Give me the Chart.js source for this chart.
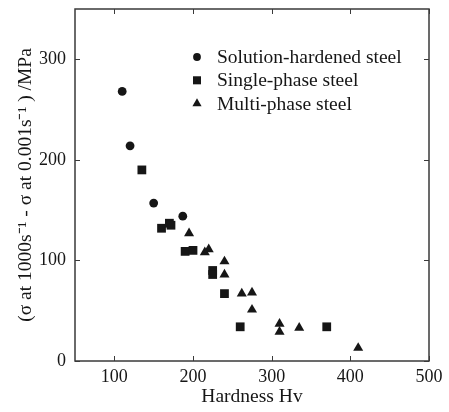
<!DOCTYPE html>
<html>
<head>
<meta charset="utf-8">
<script src="https://cdn.jsdelivr.net/npm/chart.js@4"></script>
<style>
  html, body { margin: 0; padding: 0; background: #fff; }
</style>
</head>
<body>
<canvas id="chart" width="449" height="412"></canvas>
<script>
const xTicks = [100, 200, 300, 400, 500];
const yTicks = [0, 100, 200, 300];
const seriesNames = ['Solution-hardened steel', 'Single-phase steel', 'Multi-phase steel'];

// hardness Hv / stress difference (MPa)
const solutionHv = [110, 120, 150, 187];
const solutionDiff = [268, 214, 157, 144];
const singleHv = [135, 160, 170, 172, 190, 200, 225, 225, 240, 260, 370];
const singleDiff = [190, 132, 137, 135, 109, 110, 90, 86, 67, 34, 34];
const multiHv = [195, 215, 220, 240, 240, 262, 275, 275, 310, 310, 335, 410];
const multiDiff = [127, 108, 111, 99, 86, 67, 68, 51, 37, 29, 33, 13];

const ink = '#161616';
const serif = "'Liberation Serif', 'Times New Roman', serif";

function toPoints(xs, ys) {
    return xs.map((x, i) => ({ x: x, y: ys[i] }));
}

// box frame with inward ticks on all four sides
const frameTicks = {
    id: 'frameTicks',
    afterDatasetsDraw(chart) {
        const ctx = chart.ctx;
        const a = chart.chartArea;
        const len = 5;
        ctx.save();
        ctx.strokeStyle = '#3a3a3a';
        ctx.lineWidth = 1.5;
        ctx.strokeRect(a.left, a.top, a.right - a.left, a.bottom - a.top);
        ctx.lineWidth = 1;
        ctx.beginPath();
        chart.scales.x.ticks.forEach(t => {
            const px = Math.round(chart.scales.x.getPixelForValue(t.value)) + 0.5;
            ctx.moveTo(px, a.bottom); ctx.lineTo(px, a.bottom - len);
            ctx.moveTo(px, a.top); ctx.lineTo(px, a.top + len);
        });
        chart.scales.y.ticks.forEach(t => {
            const py = Math.round(chart.scales.y.getPixelForValue(t.value)) + 0.5;
            ctx.moveTo(a.left, py); ctx.lineTo(a.left + len, py);
            ctx.moveTo(a.right, py); ctx.lineTo(a.right - len, py);
        });
        ctx.stroke();
        ctx.restore();
    }
};

// legend drawn inside the plot, upper right
const innerLegend = {
    id: 'innerLegend',
    afterDraw(chart) {
        const ctx = chart.ctx;
        const a = chart.chartArea;
        const markX = a.left + 122;
        const textX = a.left + 142;
        let rowY = a.top + 48;
        ctx.save();
        ctx.font = '19.5px ' + serif;
        ctx.textBaseline = 'middle';
        chart.data.datasets.forEach(ds => {
            ctx.fillStyle = ink;
            ctx.strokeStyle = ink;
            Chart.helpers.drawPoint(ctx, {
                pointStyle: ds.pointStyle,
                radius: ds.pointRadius - 0.5,
                rotation: 0,
                borderWidth: 0
            }, markX, rowY);
            ctx.fillStyle = ink;
            ctx.fillText(ds.label, textX, rowY + 1);
            rowY += 23.3;
        });
        ctx.restore();
    }
};

const ctxChart = document.getElementById('chart').getContext('2d');
new Chart(ctxChart, {
    type: 'scatter',
    data: {
        datasets: [
            {
                label: seriesNames[0],
                data: toPoints(solutionHv, solutionDiff),
                pointStyle: 'circle',
                pointRadius: 4.4,
                backgroundColor: ink,
                borderColor: ink,
                borderWidth: 0
            },
            {
                label: seriesNames[1],
                data: toPoints(singleHv, singleDiff),
                pointStyle: 'rect',
                pointRadius: 6.2,
                backgroundColor: ink,
                borderColor: ink,
                borderWidth: 0
            },
            {
                label: seriesNames[2],
                data: toPoints(multiHv, multiDiff),
                pointStyle: 'triangle',
                pointRadius: 5.8,
                backgroundColor: ink,
                borderColor: ink,
                borderWidth: 0
            }
        ]
    },
    options: {
        responsive: false,
        animation: false,
        devicePixelRatio: 1,
        layout: { padding: { left: 0, right: 20, top: 9, bottom: 0 } },
        plugins: {
            legend: { display: false },
            tooltip: { enabled: false }
        },
        scales: {
            x: {
                type: 'linear',
                min: 50,
                max: 500,
                afterBuildTicks: s => { s.ticks = xTicks.map(v => ({ value: v })); },
                afterFit: s => { s.height = 51; s.paddingLeft = 0; s.paddingRight = 0; },
                grid: { display: false, drawTicks: false },
                border: { display: false },
                ticks: {
                    padding: 5,
                    color: ink,
                    font: { family: serif, size: 18 }
                },
                title: {
                    display: true,
                    text: 'Hardness Hv',
                    color: ink,
                    padding: { top: 0, bottom: 3 },
                    font: { family: serif, size: 19.5 }
                }
            },
            y: {
                type: 'linear',
                min: 0,
                max: 350,
                afterBuildTicks: s => { s.ticks = yTicks.map(v => ({ value: v })); },
                afterFit: s => { s.width = 75; s.paddingTop = 0; s.paddingBottom = 0; },
                grid: { display: false, drawTicks: false },
                border: { display: false },
                ticks: {
                    padding: 9,
                    color: ink,
                    font: { family: serif, size: 18 }
                },
                title: {
                    display: true,
                    text: '(σ at 1000s⁻¹ - σ at 0.001s⁻¹ ) /MPa',
                    color: ink,
                    padding: { top: 14, bottom: 0 },
                    font: { family: serif, size: 19.5 }
                }
            }
        }
    },
    plugins: [frameTicks, innerLegend]
});
</script>
</body>
</html>
